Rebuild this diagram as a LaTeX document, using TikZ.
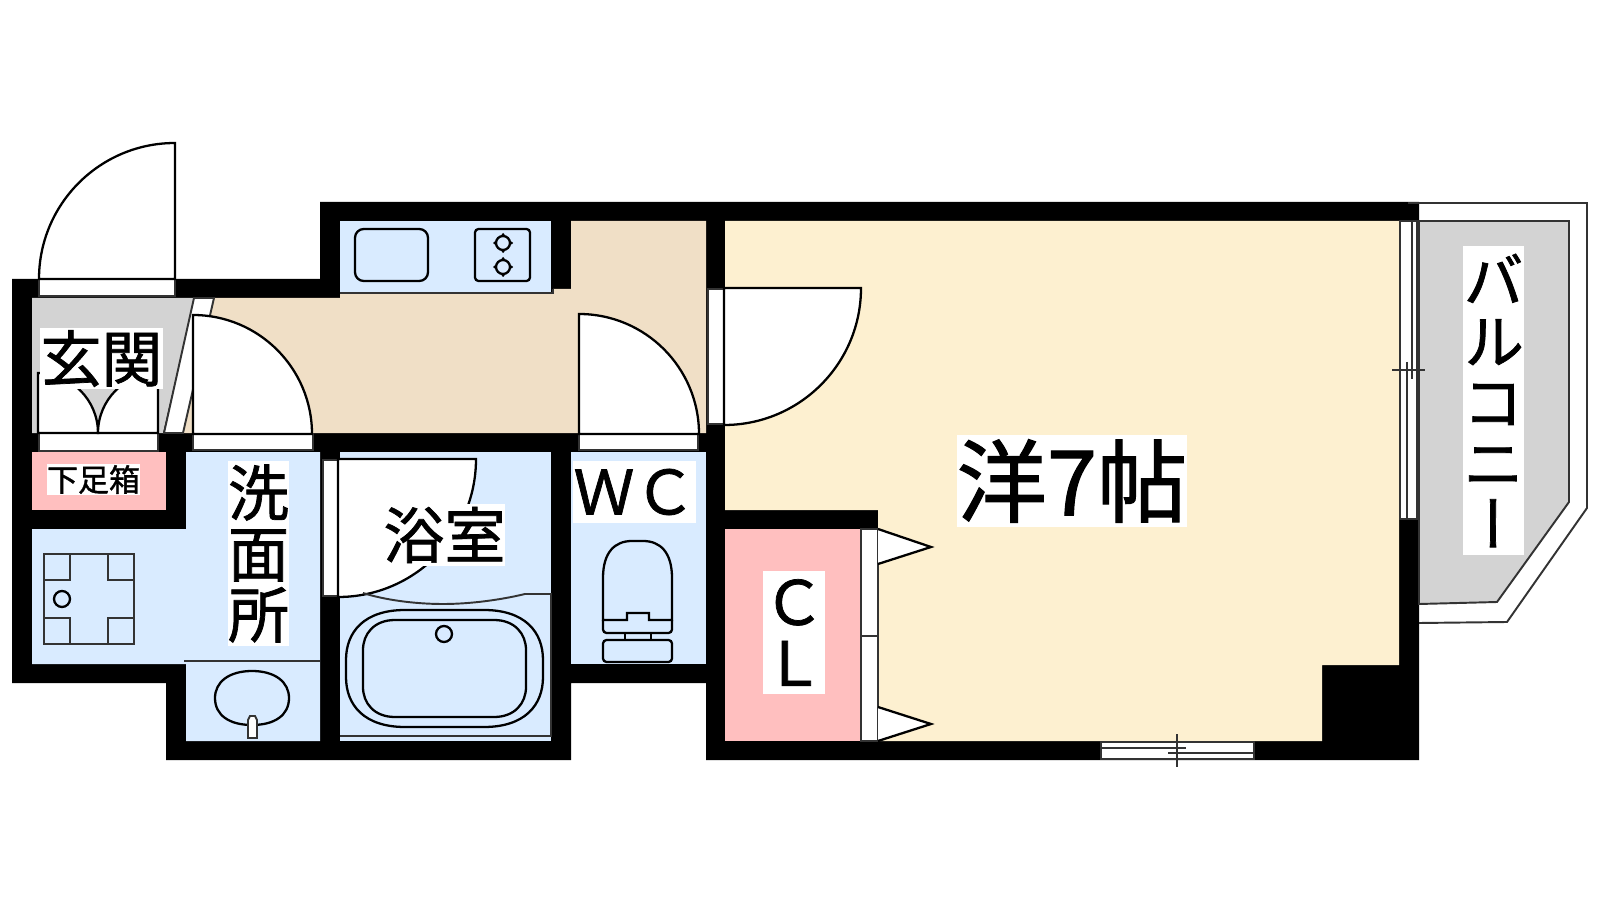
\documentclass[tikz,border=0pt]{standalone}
\usepackage{fontspec}
\setmainfont[FakeBold=1.2]{Noto Sans CJK JP}
\newfontfamily\vertfont[RawFeature=+vert,FakeBold=1.2]{Noto Sans CJK JP}
\usepackage{tikz}
\definecolor{wetblue}{HTML}{D9EBFF}
\definecolor{hallbeige}{HTML}{F0DFC6}
\definecolor{roomcream}{HTML}{FDF0D0}
\definecolor{storepink}{HTML}{FFBFBF}
\definecolor{floorgray}{HTML}{D3D3D3}
\definecolor{linegray}{HTML}{333333}
\newcommand{\labelsize}[1]{\fontsize{#1pt}{#1pt}\selectfont}
\tikzset{
  roomlabel/.style={fill=white,inner sep=0pt,align=center,font=\labelsize{17.35}},
  thinline/.style={draw=linegray,line width=0.55pt},
  fixture/.style={draw=black,line width=0.65pt},
  leaf/.style={draw=black,fill=white,line width=0.65pt},
  frame/.style={draw=linegray,fill=white,line width=0.55pt}
}
\begin{document}
\begin{tikzpicture}[x=0.1mm,y=-0.1mm]
\useasboundingbox (0,0) rectangle (1600,900);

% walls
\fill[black] (12,279) -- (320,279) -- (320,202) -- (1419,202) -- (1419,760) -- (706,760)
  -- (706,683) -- (571,683) -- (571,760) -- (166,760) -- (166,683) -- (12,683) -- cycle;

% floors
\fill[floorgray] (32,298) -- (194,298) -- (163,433) -- (32,433) -- cycle;
\fill[hallbeige] (194,298) -- (340,298) -- (340,293) -- (553,293) -- (553,289) -- (571,289)
  -- (571,221) -- (706,221) -- (706,433) -- (164,433) -- cycle;
\fill[wetblue] (340,221) rectangle (551,293);
\fill[wetblue] (186,452) -- (320,452) -- (320,741) -- (186,741) -- (186,664) -- (32,664) -- (32,529) -- (186,529) -- cycle;
\fill[wetblue] (340,452) rectangle (551,741);
\fill[wetblue] (571,452) rectangle (706,664);
\fill[storepink] (32,452) rectangle (166,510);
\fill[storepink] (725,529) rectangle (860,741);
\fill[roomcream] (725,221) -- (1399,221) -- (1399,665) -- (1322,665) -- (1322,741) -- (878,741) -- (878,510) -- (725,510) -- cycle;

% balcony
\draw[line width=0.55pt,linegray] (1408,203) -- (1587,203) -- (1587,508) -- (1507,622) -- (1419,623);
\filldraw[fill=floorgray,draw=linegray,line width=0.55pt] (1419,221) -- (1569,221) -- (1569,502) -- (1497,602) -- (1419,604) -- cycle;

% entrance door
\draw[frame] (39,279) rectangle (175,296);
\draw[leaf] (175,279) -- (175,143) arc[start angle=-90,end angle=-180,radius=136] -- cycle;

% shoe box doors
\draw[frame] (39,433) rectangle (158,451);
\draw[leaf] (38,433) -- (38,373) arc[start angle=-90,end angle=0,radius=60] -- cycle;
\draw[leaf] (158,433) -- (158,373) arc[start angle=-90,end angle=-180,radius=60] -- cycle;

% slanted strip and washroom door
\draw[frame] (194,298) -- (214,298) -- (183,433) -- (164,433) -- cycle;
\draw[frame] (193,434) rectangle (313,450);
\draw[leaf] (193,434) -- (193,315) arc[start angle=-90,end angle=0,radius=119] -- cycle;

% wc door
\draw[frame] (579,434) rectangle (698,450);
\draw[leaf] (579,434) -- (579,314) arc[start angle=-90,end angle=0,radius=120] -- cycle;

% room door
\draw[frame] (708,289) rectangle (724,424);
\draw[leaf] (724,424) -- (724,288) -- (861,288) arc[start angle=0,end angle=90,radius=137] -- cycle;

% bath door
\draw[frame] (323,460) rectangle (338,596);
\draw[leaf] (338,596) -- (338,459) -- (476,459) arc[start angle=0,end angle=90,radius=138] -- cycle;

% closet
\draw[frame] (861,529) rectangle (878,636);
\draw[frame] (861,636) rectangle (878,741);
\draw[leaf] (878,529) -- (931,547) -- (878,564);
\draw[leaf] (878,707) -- (931,724) -- (878,741);

% windows
\draw[frame] (1400,221) rectangle (1417,519);
\draw[thinline] (1407,362) -- (1407,519);
\draw[thinline] (1412,221) -- (1412,379);
\draw[thinline] (1392,370) -- (1425,370);
\draw[frame] (1101,742) rectangle (1254,759);
\draw[thinline] (1101,748) -- (1186,748);
\draw[thinline] (1168,753) -- (1254,753);
\draw[thinline] (1177,734) -- (1177,767);

% kitchen
\draw[thinline] (340,293) -- (553,293) -- (553,289);
\draw[fixture,rounded corners=2.5pt] (355,229) rectangle (428,281);
\draw[fixture,rounded corners=1pt] (475,229) rectangle (530,281);
\foreach \y in {243,267} {
  \draw[fixture] (503,\y) circle (7);
  \foreach \a in {0,90,180,270}
    \fill[black] (503,\y) +(\a:8.5) circle (1.5);
}

% washing pan
\draw[thinline,line width=0.6pt] (44,554) rectangle (134,644);
\foreach \x in {44,108} {
  \foreach \y in {554,618}
    \draw[thinline,line width=0.6pt] (\x,\y) rectangle +(26,26);
}
\draw[fixture] (62,599) circle (8);

% wash basin
\draw[thinline] (184,661) -- (320,661);
\draw[fixture] (252,671) .. controls (275,671) and (289,682) .. (289,698)
  .. controls (289,715) and (275,725) .. (252,725)
  .. controls (229,725) and (215,715) .. (215,698)
  .. controls (215,682) and (229,671) .. (252,671) -- cycle;
\draw[frame] (248,738) -- (248,720) -- (250,716) -- (255,716) -- (257,720) -- (257,738) -- cycle;

% bath tub
\draw[thinline] (340,736) -- (551,736) -- (551,594) -- (525,594)
  .. controls (500,600) and (470,604) .. (443,604)
  .. controls (415,604) and (385,600) .. (363,593);
\draw[fixture] (405,610) -- (484,610) .. controls (525,610) and (543,632) .. (543,660)
  -- (543,677) .. controls (543,705) and (525,727) .. (484,727) -- (405,727)
  .. controls (364,727) and (346,705) .. (346,677) -- (346,660) .. controls (346,632) and (364,610) .. (405,610) -- cycle;
\draw[fixture] (395,620) -- (494,620) .. controls (515,620) and (526,634) .. (526,650)
  -- (526,687) .. controls (526,703) and (515,717) .. (494,717) -- (395,717)
  .. controls (374,717) and (363,703) .. (363,687) -- (363,650) .. controls (363,634) and (374,620) .. (395,620) -- cycle;
\draw[fixture] (444,634) circle (8);

% toilet
\draw[fixture] (603,620) -- (603,578) .. controls (603,552) and (615,541) .. (632,541)
  -- (643,541) .. controls (660,541) and (672,552) .. (672,578) -- (672,620)
  -- (649,620) -- (649,613) -- (627,613) -- (627,620) -- cycle;
\draw[fixture,rounded corners=1pt] (603,620) -- (603,633) -- (672,633) -- (672,620);
\draw[fixture] (625,633) -- (625,640) (651,633) -- (651,640);
\draw[fixture,rounded corners=1pt] (603,640) rectangle (672,662);

% room names
\node[roomlabel,minimum width=12.3mm,minimum height=6.1mm] (genkan) at (101.5,358.5) {玄関};
\node[roomlabel,font=\labelsize{8.82},minimum width=9.3mm,minimum height=3.1mm] (getabako) at (93.5,479.5) {下足箱};
\node[roomlabel,text width=6.1mm,minimum height=18.5mm] (senmen) at (258.5,553.5) {洗\\面\\所};
\node[roomlabel,minimum width=12.1mm,minimum height=6.2mm] (yokushitsu) at (444.5,535) {浴室};
\node[roomlabel,minimum width=12.3mm,minimum height=6.2mm] (wc) at (634.5,492) {ＷＣ};
\node[roomlabel,text width=6.2mm,minimum height=12.3mm] (cl) at (794,632.5) {Ｃ\\Ｌ};
\node[roomlabel,font=\labelsize{25.7},minimum width=23mm,minimum height=9.2mm] (youshitsu) at (1072,481) {洋7帖};
\node[roomlabel,font=\labelsize{17.35}\vertfont,text width=6.1mm,minimum height=30.9mm] (balcony) at (1493.5,400.5) {バ\\ル\\コ\\ニ\\ー};
\end{tikzpicture}
\end{document}
